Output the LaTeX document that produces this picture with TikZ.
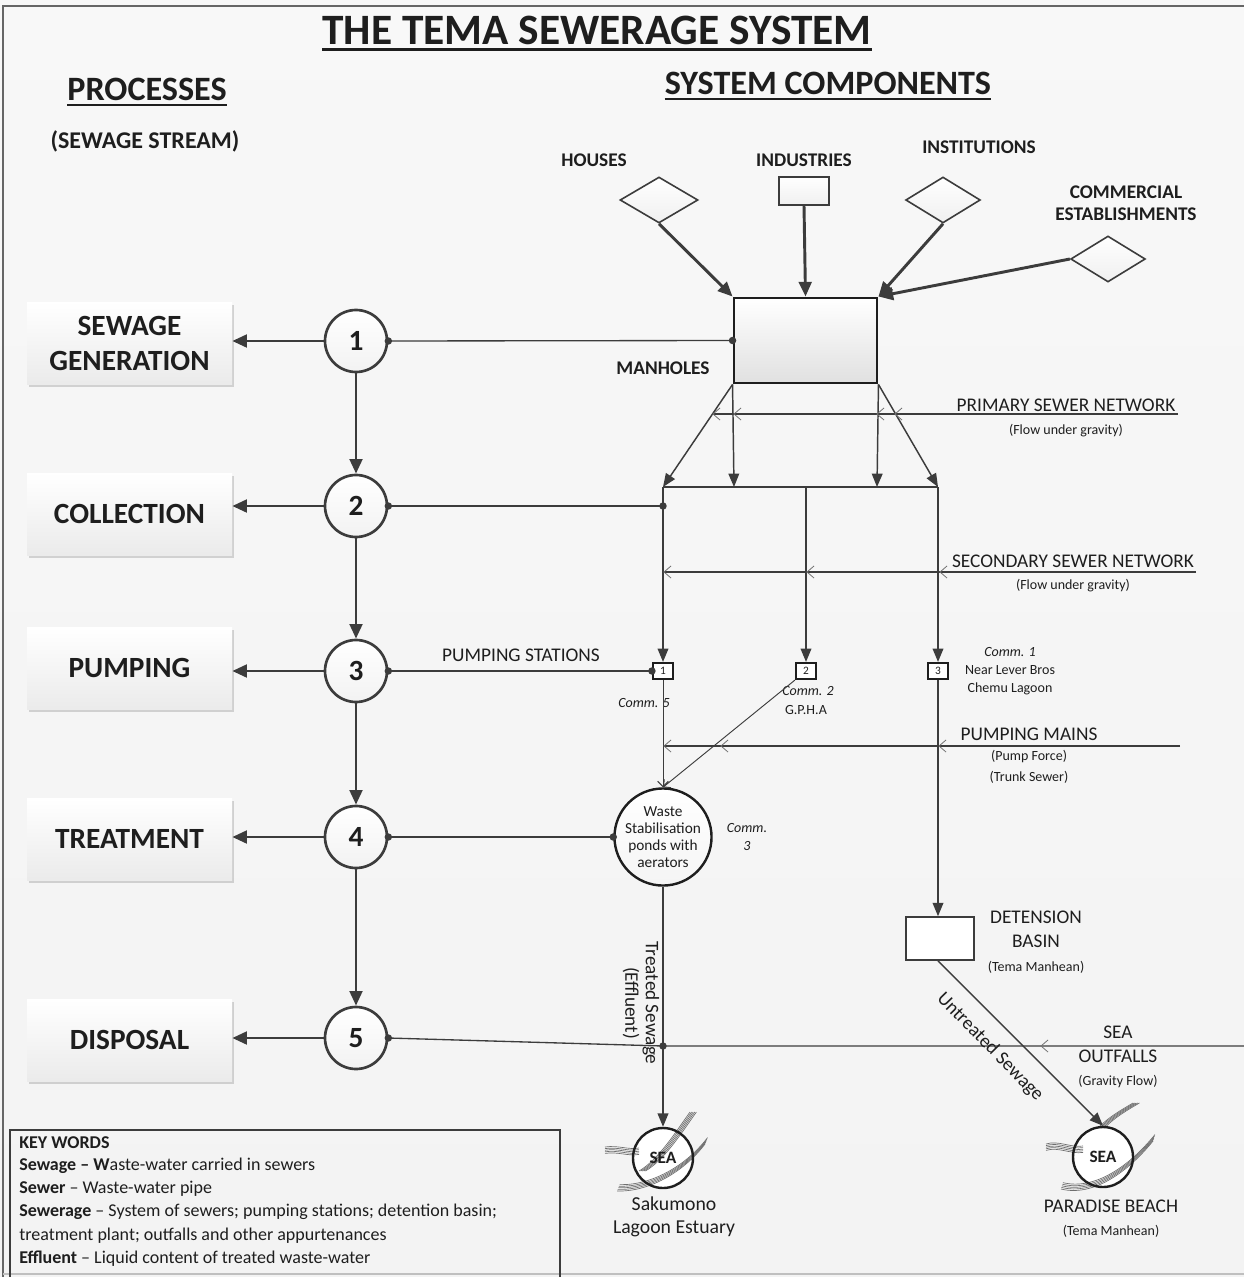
\documentclass[tikz,border=0pt]{standalone}
\usepackage{fontspec}
\setmainfont{Carlito}
\usetikzlibrary{arrows.meta,shapes.geometric,shadows,calc}
\definecolor{inkc}{RGB}{30,30,30}
\definecolor{linec}{RGB}{60,60,60}
\definecolor{bgc}{RGB}{243,243,243}
\definecolor{wavec}{RGB}{110,110,110}
\newcommand\chevmark[2]{\draw[chevst] (#1+7,#2-6) -- (#1,#2) -- (#1+7,#2+6);}
\begin{document}
\begin{tikzpicture}[x=0.75pt,y=-0.75pt,
  every node/.style={text=inkc},
  lbl/.style={inner sep=0pt, align=center},
  bigcap/.style={lbl, font=\bfseries\fontsize{14.5}{16.5}\selectfont},
  reg/.style={lbl, font=\fontsize{14.5}{18}\selectfont},
  small/.style={lbl, font=\fontsize{10.5}{13.5}\selectfont},
  smallit/.style={lbl, font=\itshape\fontsize{10.5}{13.5}\selectfont},
  proc/.style={rectangle, minimum width=153.75pt, minimum height=61.5pt, top color=white, bottom color=black!8,
     drop shadow={shadow xshift=1.5pt, shadow yshift=-2pt, opacity=.15, fill=black},
     font=\bfseries\fontsize{22}{26.25}\selectfont, align=center},
  num/.style={circle, draw=linec, line width=2pt, minimum size=46.5pt, inner sep=0pt, top color=white, bottom color=black!5,
     font=\bfseries\fontsize{22}{26}\selectfont},
  bigarrow/.style={draw=linec, line width=2.2pt, -{Triangle[length=11pt,width=9.5pt]}},
  arr/.style={draw=linec, line width=1.1pt, -{Triangle[length=10pt,width=8pt]}},
  pipe/.style={draw=linec, line width=1pt},
  thinpipe/.style={draw=linec, line width=0.7pt},
  chevst/.style={draw=black!55, line width=0.6pt},
  src/.style={draw=linec, line width=1.2pt, top color=white, bottom color=black!6, inner sep=0pt},
  ps/.style={rectangle, draw=inkc, line width=1.6pt, fill=white, minimum width=15pt, minimum height=12pt, inner sep=0pt,
     font=\fontsize{8.5}{10}\selectfont},
  sea/.style={circle, draw=inkc, line width=1.8pt, minimum size=45pt, inner sep=0pt,
     font=\bfseries\fontsize{13}{15}\selectfont},
  wave/.style={draw=wavec, line width=0.5pt},
  dotc/.style={fill=linec}
]
% background and frame
\shade[top color=white!40!bgc, bottom color=bgc] (0,0) rectangle (1244,1277);
\useasboundingbox (0,0) rectangle (1244,1277);
\draw[black!60, line width=1.2pt] (3,1277) -- (3,6) -- (1244,6);
\draw[black!25, line width=1pt] (3,1274) -- (1244,1274);

% headings
\node[lbl, anchor=base, font=\bfseries\fontsize{32.5}{36}\selectfont] (title) at (597,45) {THE TEMA SEWERAGE SYSTEM};
\draw[inkc, line width=2.2pt] ([yshift=-3.5pt]title.base west) -- ([yshift=-3.5pt]title.base east);
\node[lbl, anchor=base, font=\bfseries\fontsize{25.6}{30}\selectfont] (proc) at (147,101) {PROCESSES};
\draw[inkc, line width=1.8pt] ([yshift=-3pt]proc.base west) -- ([yshift=-3pt]proc.base east);
\node[lbl, anchor=base, font=\bfseries\fontsize{25.6}{30}\selectfont] (comp) at (828,95) {SYSTEM COMPONENTS};
\draw[inkc, line width=1.8pt] ([yshift=-3pt]comp.base west) -- ([yshift=-3pt]comp.base east);
\node[lbl, font=\bfseries\fontsize{18}{21}\selectfont] (stream) at (145,141) {(SEWAGE STREAM)};

% process boxes
\node[proc] (p1) at (129.5,343) {SEWAGE\\GENERATION};
\node[proc] (p2) at (129.5,514) {COLLECTION};
\node[proc] (p3) at (129.5,668) {PUMPING};
\node[proc] (p4) at (129.5,839) {TREATMENT};
\node[proc] (p5) at (129.5,1040) {DISPOSAL};

% numbered circles
\node[num] (c1) at (356,341) {1};
\node[num] (c2) at (356,506) {2};
\node[num] (c3) at (356,671) {3};
\node[num] (c4) at (356,837) {4};
\node[num] (c5) at (356,1038) {5};
\foreach \i in {1,...,5} {\draw[bigarrow] (c\i.west) -- (c\i.west -| p\i.east);}
\draw[bigarrow] (c1.south) -- (c2.north);
\draw[bigarrow] (c2.south) -- (c3.north);
\draw[bigarrow] (c3.south) -- (c4.north);
\draw[bigarrow] (c4.south) -- (c5.north);

% sources
\node[bigcap] (lhouses) at (594,160) {HOUSES};
\node[bigcap] (lind) at (804,160) {INDUSTRIES};
\node[bigcap] (linst) at (979,147) {INSTITUTIONS};
\node[lbl, font=\bfseries\fontsize{14.5}{16.5}\selectfont] (lcomm) at (1126,203) {COMMERCIAL\\ESTABLISHMENTS};
\node[src, shape=diamond, minimum width=58.5pt, minimum height=34.5pt] (houses) at (659,200) {};
\node[src, rectangle, minimum width=37.5pt, minimum height=21pt] (ind) at (804,191) {};
\node[src, shape=diamond, minimum width=56pt, minimum height=34.5pt] (inst) at (943,200) {};
\node[src, shape=diamond, minimum width=56pt, minimum height=34.5pt] (comm) at (1108,259) {};

% manholes
\node[rectangle, draw=inkc, line width=2.2pt, top color=white, bottom color=black!12, minimum width=107.25pt, minimum height=63.75pt, inner sep=0pt] (mh) at (805.5,340.5) {};
\node[bigcap] (lmh) at (663,368) {MANHOLES};
\draw[bigarrow] (houses.south) -- (mh.north west);
\draw[bigarrow] (ind.south) -- (mh.north);
\draw[bigarrow] (inst.south) -- (mh.north east);
\draw[bigarrow] (comm.west) -- (mh.north east);

% line 1
\draw[pipe] (c1.east) -- (mh.west);
\fill[dotc] (c1.east) circle[radius=2.8pt];
\fill[dotc] (mh.west) circle[radius=2.8pt];

% primary network
\coordinate (h1) at (663,487);
\coordinate (h2) at (734,487);
\coordinate (h3) at (806,487);
\coordinate (h4) at (877,487);
\coordinate (h5) at (938,487);
\draw[arr] (mh.south west) -- (h1);
\draw[arr] (mh.south west) -- (h2);
\draw[arr] (mh.south east) -- (h4);
\draw[arr] (mh.south east) -- (h5);
\draw[pipe] (h1) -- (h5);
\coordinate (prR) at (1178,414);
\coordinate (prL) at (713,414);
\draw[pipe] (prR) -- (prL);
\chevmark{713}{414}\chevmark{734}{414}\chevmark{877}{414}\chevmark{895}{414}
\node[reg] (lprim) at (1066,405) {PRIMARY SEWER NETWORK};
\node[small] (lprim2) at (1066,431) {(Flow under gravity)};

% collection junction
\coordinate (j2) at (663,506);
\draw[pipe] (c2.east) -- (j2);
\fill[dotc] (c2.east) circle[radius=2.8pt];
\fill[dotc] (j2) circle[radius=2.8pt];

% pumping stations
\node[ps] (ps1) at (663,671) {1};
\node[ps] (ps2) at (806,671) {2};
\node[ps] (ps3) at (938,671) {3};
\draw[arr] (h1) -- (ps1.north);
\draw[arr] (h3) -- (ps2.north);
\draw[arr] (h5) -- (ps3.north);

% secondary network
\coordinate (seR) at (1196,572);
\coordinate (seL) at (663,572);
\draw[pipe] (seR) -- (seL);
\chevmark{664}{572}\chevmark{807}{572}\chevmark{940}{572}
\node[reg] (lsec) at (1073,561) {SECONDARY SEWER NETWORK};
\node[small] (lsec2) at (1073,586) {(Flow under gravity)};

% pumping stations line
\draw[pipe] (c3.east) -- (ps1.west);
\fill[dotc] (c3.east) circle[radius=2.8pt];
\fill[dotc] (ps1.west) circle[radius=2.8pt];
\node[reg] (lps) at (521,655) {PUMPING STATIONS};
\node[smallit] (lc5) at (644,703) {Comm. 5};
\node[smallit] (lc2) at (808,691) {Comm. 2};
\node[small] (lgpha) at (806,710) {G.P.H.A};
\node[lbl, font=\fontsize{10.5}{13.5}\selectfont] (lc1) at (1010,671) {\textit{Comm. 1}\\Near Lever Bros\\Chemu Lagoon};

% treatment
\node[circle, draw=inkc, line width=1.8pt, top color=white, bottom color=black!4, minimum size=72pt, inner sep=0pt, align=center,
  font=\fontsize{11.5}{12.75}\selectfont] (pond) at (663,837) {Waste\\Stabilisation\\ponds with\\aerators};
\draw[thinpipe, -{Straight Barb[length=4pt,width=8pt]}] (ps1.south) -- (pond.north);
\draw[thinpipe, -{Straight Barb[length=4pt,width=8pt]}] (ps2.south west) -- (pond.north);
\node[smallit] (lc3) at (747,837) {Comm.\\3};
\draw[pipe] (c4.east) -- (pond.west);
\fill[dotc] (c4.east) circle[radius=2.8pt];
\fill[dotc] (pond.west) circle[radius=2.8pt];

% pumping mains
\coordinate (pmR) at (1180,746);
\coordinate (pmL) at (663,746);
\draw[pipe] (pmR) -- (pmL);
\chevmark{664}{746}\chevmark{721}{746}\chevmark{939}{746}
\node[reg] (lpm) at (1029,734) {PUMPING MAINS};
\node[small] (lpm2) at (1029,756) {(Pump Force)};
\node[small] (lpm3) at (1029,777) {(Trunk Sewer)};

% detention basin
\node[rectangle, draw=linec, line width=1.2pt, fill=white, minimum width=51pt, minimum height=32.25pt, inner sep=0pt] (det) at (940,938.5) {};
\draw[arr] (ps3.south) -- (det.north -| ps3.south);
\node[reg, font=\fontsize{14.5}{18}\selectfont] (ldet) at (1036,929) {DETENSION\\BASIN};
\node[small] (ldet2) at (1036,967) {(Tema Manhean)};

% sea outfalls
\coordinate (d5) at (663,1046);
\coordinate (soR) at (1244,1046);
\draw[pipe] (c5.east) -- (d5) -- (soR);
\fill[dotc] (c5.east) circle[radius=2.8pt];
\fill[dotc] (d5) circle[radius=2.8pt];
\chevmark{1041}{1046}
\node[reg] (lso) at (1118,1044) {SEA\\OUTFALLS};
\node[small] (lso2) at (1118,1081) {(Gravity Flow)};

% sea 1 (waves, then circle)
\fill[white] (663,1158) circle[radius=22.5pt];
\begin{scope}[shift={(663,1158)}]
 \foreach \o in {0,1.6,3.2,4.8,6.4} {
  \draw[wave] (-46+\o*0.4,33-\o) .. controls (-15+\o*0.4,34-\o) and (20+\o*0.4,15-\o) .. (42+\o*0.4,-14-\o);
  \draw[wave] (-24+\o,13) .. controls (-5+\o,2) and (12+\o,-25) .. (27+\o,-46);
  \draw[wave] (-58,-11+\o) .. controls (-45,-13+\o) and (-35,-8+\o) .. (-24,-10+\o);
 }
\end{scope}
\node[sea] (sea1) at (663,1158) {SEA};
\draw[arr] (pond.south) -- (sea1.north);
\node[lbl, font=\fontsize{14.8}{17.25}\selectfont] (lsea1) at (674,1217) {Sakumono\\Lagoon Estuary};
\node[lbl, rotate=-90, font=\fontsize{14.4}{17}\selectfont] (ltreat) at (651,1003) {Treated Sewage};
\node[lbl, rotate=-90, font=\fontsize{14.4}{17}\selectfont] (leff) at (631,1003) {(Effluent)};

% sea 2
\fill[white] (1103,1157) circle[radius=22.5pt];
\begin{scope}[shift={(1103,1157)}]
 \foreach \o in {0,1.6,3.2,4.8,6.4} {
  \draw[wave] (-4+\o,-30) .. controls (6+\o,-40) and (18+\o,-47) .. (30+\o,-54);
  \draw[wave] (-57,-13+\o) .. controls (-45,-17+\o) and (-32,-9+\o) .. (-20,-11+\o);
  \draw[wave] (-42+\o*0.3,32-\o) .. controls (-10+\o*0.3,40-\o) and (25+\o*0.3,15-\o) .. (50+\o*0.3,-16-\o);
 }
\end{scope}
\node[sea] (sea2) at (1103,1157) {SEA};
\draw[arr] (det.south -| ps3.south) -- (sea2.north);
\node[lbl, rotate=-45.7, font=\fontsize{14.4}{17}\selectfont] (luntr) at (990,1047) {Untreated Sewage};
\node[reg] (lsea2) at (1111,1206) {PARADISE BEACH};
\node[small] (lsea2b) at (1111,1231) {(Tema Manhean)};

% key words
\draw[linec, line width=1pt] (10,1280) -- (10,1130) -- (560,1130) -- (560,1280);
\begin{scope}[every node/.style={lbl, anchor=west, text=inkc, font=\fontsize{13.5}{16}\selectfont}]
 \node (k0) at (19,1143) {\textbf{KEY WORDS}};
 \node (k1) at (19,1166) {\textbf{Sewage – W}aste-water carried in sewers};
 \node (k2) at (19,1189) {\textbf{Sewer} – Waste-water pipe};
 \node (k3) at (19,1212) {\textbf{Sewerage} – System of sewers; pumping stations; detention basin;};
 \node (k4) at (19,1236) {treatment plant; outfalls and other appurtenances};
 \node (k5) at (19,1259) {\textbf{Effluent} – Liquid content of treated waste-water};
\end{scope}
\end{tikzpicture}
\end{document}
